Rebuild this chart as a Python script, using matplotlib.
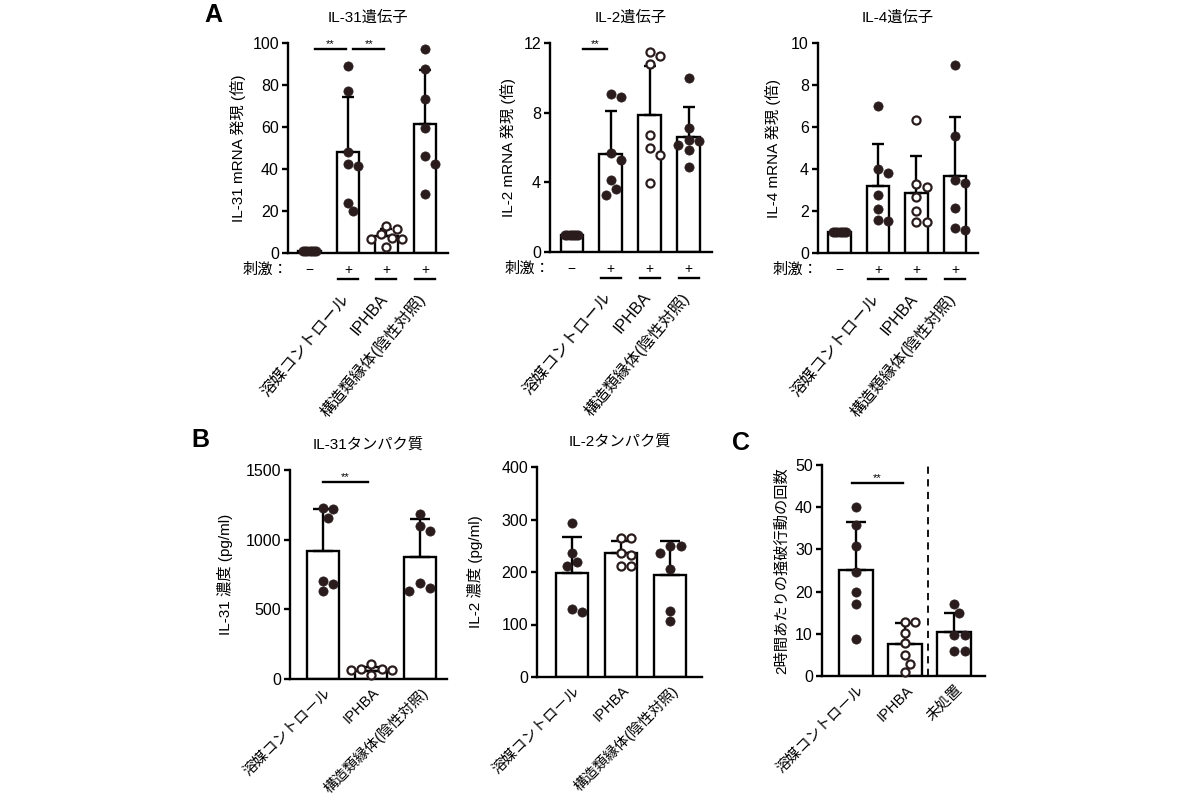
import numpy as np
import matplotlib.pyplot as plt
from matplotlib.transforms import blended_transform_factory

plt.rcParams['font.family'] = ['Liberation Sans', 'Noto Sans CJK JP']

# ------------------ DATA ------------------
labels_a = ["", "溶媒コントロール", "IPHBA", "構造類縁体(陰性対照)"]
stim_a = ["−", "+", "+", "+"]
labels_b = ["溶媒コントロール", "IPHBA", "構造類縁体(陰性対照)"]
labels_c = ["溶媒コントロール", "IPHBA", "未処置"]

# A: mRNA fold change
il31_mrna_mean = [1.0, 48.1, 8.0, 61.4]
il31_mrna_sd = [0.0, 26.2, 3.5, 25.9]
il31_mrna_pts = [[1.1, 1.0, 1.0, 1.0, 1.0, 0.9, 0.9],
                 [88.9, 77.0, 47.9, 42.5, 41.3, 23.8, 19.8],
                 [12.9, 11.3, 8.9, 7.3, 6.5, 6.5, 3.0],
                 [97.1, 87.6, 73.3, 59.5, 46.0, 42.5, 28.1]]

il2_mrna_mean = [1.0, 5.65, 7.87, 6.62]
il2_mrna_sd = [0.0, 2.45, 2.8, 1.68]
il2_mrna_pts = [[1.0, 1.0, 1.0, 1.0, 1.0, 1.0, 1.0],
                [9.07, 8.88, 5.68, 5.26, 4.15, 3.62, 3.29],
                [11.46, 11.27, 10.8, 6.7, 5.97, 5.55, 3.96],
                [10.0, 7.1, 6.45, 6.35, 6.16, 5.88, 4.86]]

il4_mrna_mean = [1.0, 3.17, 2.86, 3.65]
il4_mrna_sd = [0.0, 2.02, 1.74, 2.83]
il4_mrna_pts = [[1.0, 1.0, 1.0, 1.0, 1.0, 1.0, 1.0],
                [6.98, 4.0, 3.81, 2.78, 2.11, 1.56, 1.51],
                [6.32, 3.3, 3.13, 2.65, 1.98, 1.46, 1.46],
                [8.97, 5.56, 3.49, 3.33, 2.14, 1.19, 1.08]]

# B: protein (pg/ml)
il31_prot_mean = [922, 60, 878]
il31_prot_sd = [300, 25, 269]
il31_prot_pts = [[1225, 1218, 1158, 705, 683, 628],
                 [105, 72, 70, 66, 62, 30],
                 [1184, 1100, 1065, 687, 655, 632]]

il2_prot_mean = [199, 236, 194]
il2_prot_sd = [68, 24, 66]
il2_prot_pts = [[293, 236, 220, 211, 130, 124],
                [265, 264, 237, 232, 212, 211],
                [249, 249, 236, 206, 125, 106]]

# C: scratching bouts per 2 h
scratch_mean = [25.1, 7.5, 10.35]
scratch_sd = [11.3, 5.0, 4.65]
scratch_pts = [[40.0, 35.8, 30.9, 24.7, 20.0, 17.0, 8.8],
               [12.9, 12.9, 10.2, 7.9, 5.0, 2.8, 0.9],
               [17.0, 15.0, 9.7, 9.7, 6.0, 6.0]]

# ------------------ STYLE ------------------
W, H = 1200, 800
INK = '#2a1c1c'
LW = 1.7

fig = plt.figure(figsize=(12, 8), dpi=100)


def px_rect(x0, y0, x1, y1):
    return [x0 / W, 1 - y1 / H, (x1 - x0) / W, (y1 - y0) / H]


def swarm_x(ax, x0, vals, diam, step):
    # simple beeswarm in pixel space so dots don't sit on top of each other
    to_px = ax.transData
    xc = to_px.transform((x0, 0))[0]
    placed, out = [], []
    for v in vals:
        yp = to_px.transform((x0, v))[1]
        cands = [xc] + [xc + s * k * step for k in range(1, 30) for s in (1, -1)]
        xp = next(c for c in cands
                  if all(np.hypot(c - a, yp - b) >= diam for a, b in placed))
        placed.append((xp, yp))
        out.append(to_px.inverted().transform((xp, yp))[0])
    return out


def panel(rect, means, sds, pts, open_idx, ylim, yticks, ylabel, ylabel_x,
          xlim, width, capsize, title=None, packed=()):
    ax = fig.add_axes(px_rect(*rect))
    x = np.arange(len(means))
    ax.set_xlim(*xlim)
    ax.set_ylim(*ylim)
    ax.bar(x, means, width=width, color='white', edgecolor='black',
           linewidth=LW, zorder=2)
    ax.errorbar(x, means, yerr=[np.zeros(len(sds)), sds], fmt='none',
                ecolor='black', elinewidth=LW, capsize=capsize,
                capthick=LW, zorder=3)
    for i, vals in enumerate(pts):
        d = 2.0 if i in packed else 9.5
        xs = swarm_x(ax, i, vals, d, d * 0.55)
        if i in open_idx:
            ax.scatter(xs, vals, s=34, facecolor='white', edgecolor=INK,
                       linewidth=1.6, zorder=4, clip_on=False)
        else:
            ax.scatter(xs, vals, s=44, facecolor=INK, edgecolor=INK,
                       linewidth=0.5, zorder=4, clip_on=False)
    for s in ['top', 'right']:
        ax.spines[s].set_visible(False)
    for s in ['left', 'bottom']:
        ax.spines[s].set_linewidth(LW)
    ax.set_yticks(yticks)
    ax.set_xticks([])
    ax.tick_params(axis='y', direction='out', length=4.5, width=LW,
                   labelsize=11.5, pad=2)
    ax.set_ylabel(ylabel, fontsize=11)
    ax.yaxis.set_label_coords(ylabel_x, 0.5)
    if title:
        ax.set_title(title, fontsize=11, pad=15)
    return ax


def xlabels(ax, labels, yfrac, dx=-0.05, rot=50, size=11.5):
    tr = blended_transform_factory(ax.transData, ax.transAxes)
    for i, lab in enumerate(labels):
        if lab:
            ax.text(i + dx, yfrac, lab, transform=tr, rotation=rot,
                    rotation_mode='anchor', ha='right', va='center',
                    fontsize=size)


def stim_row(ax):
    tr = blended_transform_factory(ax.transData, ax.transAxes)
    ax.text(0.0, -0.08, "刺激：", transform=ax.transAxes, ha='right',
            va='center', fontsize=11)
    for i, s in enumerate(stim_a):
        ax.text(i, -0.08, s, transform=tr, ha='center', va='center',
                fontsize=10)
        if s == '+':
            ax.plot([i - 0.26, i + 0.26], [-0.125, -0.125], transform=tr,
                    color='black', lw=LW, clip_on=False)


def sig(ax, i, j, y, shrink_l, shrink_r):
    x1, x2 = i + shrink_l, j - shrink_r
    ax.plot([x1, x2], [y, y], color='black', lw=LW, clip_on=False, zorder=5)
    ax.text((x1 + x2) / 2, y, "**", ha='center', va='bottom', fontsize=8)


# ------------------ PANEL A ------------------
a1 = panel((288, 43, 448, 253), il31_mrna_mean, il31_mrna_sd, il31_mrna_pts,
           [2], (0, 100), [0, 20, 40, 60, 80, 100], "IL-31 mRNA 発現 (倍)",
           -0.26, (-0.56, 3.6), 0.58, 4, title="IL-31遺伝子", packed=[0])
sig(a1, 0, 1, 97, 0.13, 0.05)
sig(a1, 1, 2, 97, 0.14, 0.06)

a2 = panel((550, 43, 712, 252), il2_mrna_mean, il2_mrna_sd, il2_mrna_pts,
           [2], (0, 12), [0, 4, 8, 12], "IL-2 mRNA 発現 (倍)",
           -0.21, (-0.56, 3.6), 0.58, 4, title="IL-2遺伝子", packed=[0])
sig(a2, 0, 1, 11.65, 0.3, 0.1)

a3 = panel((818, 43, 978, 253), il4_mrna_mean, il4_mrna_sd, il4_mrna_pts,
           [2], (0, 10), [0, 2, 4, 6, 8, 10], "IL-4 mRNA 発現 (倍)",
           -0.23, (-0.56, 3.6), 0.58, 4, title="IL-4遺伝子", packed=[0])

for ax in (a1, a2, a3):
    stim_row(ax)
    xlabels(ax, labels_a, -0.205)

# ------------------ PANEL B ------------------
b1 = panel((290, 470, 447, 679), il31_prot_mean, il31_prot_sd, il31_prot_pts,
           [1], (0, 1500), [0, 500, 1000, 1500], "IL-31 濃度 (pg/ml)",
           -0.36, (-0.68, 2.56), 0.66, 7, title="IL-31タンパク質")
sig(b1, 0, 1, 1415, 0.0, 0.08)
xlabels(b1, labels_b, -0.055, dx=0.12, rot=45, size=10.5)

b2 = panel((537, 467, 702, 677), il2_prot_mean, il2_prot_sd, il2_prot_pts,
           [1], (0, 400), [0, 100, 200, 300, 400], "IL-2 濃度 (pg/ml)",
           -0.33, (-0.71, 2.65), 0.66, 7, title="IL-2タンパク質")
xlabels(b2, labels_b, -0.055, dx=0.12, rot=45, size=10.5)

# ------------------ PANEL C ------------------
c1 = panel((822, 465, 985, 676), scratch_mean, scratch_sd, scratch_pts,
           [1], (0, 50), [0, 10, 20, 30, 40, 50], "2時間あたりの掻破行動の回数",
           -0.2, (-0.69, 2.63), 0.69, 7)
sig(c1, 0, 1, 45.7, -0.08, 0.04)
c1.axvline(1.47, ymin=0, ymax=1, color='black', lw=1.3,
           linestyle=(0, (4, 3)), zorder=1)
xlabels(c1, labels_c, -0.055, dx=0.12, rot=45, size=10.5)

# panel letters
fig.text(213 / W, 1 - 15 / H, "A", fontsize=18, fontweight='bold',
         ha='center', va='center')
fig.text(200 / W, 1 - 440 / H, "B", fontsize=18, fontweight='bold',
         ha='center', va='center')
fig.text(741 / W, 1 - 443 / H, "C", fontsize=18, fontweight='bold',
         ha='center', va='center')

plt.savefig("out.png", dpi=100)
plt.close()
